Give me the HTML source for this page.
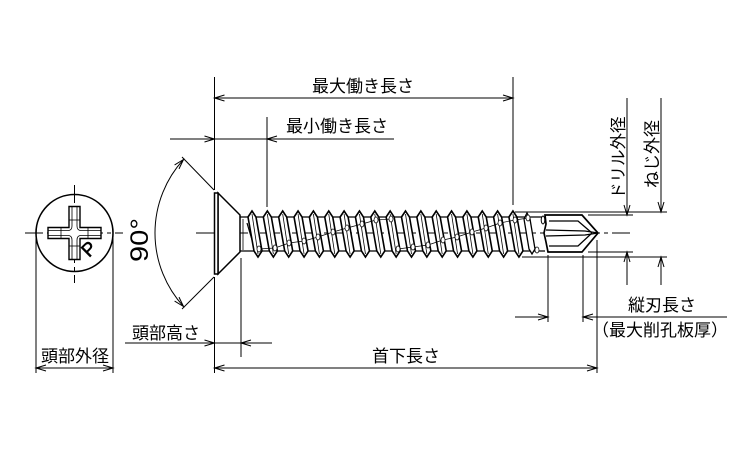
<!DOCTYPE html>
<html><head><meta charset="utf-8">
<style>
html,body{margin:0;padding:0;background:#fff;}
svg{display:block;}
text{font-family:"Liberation Sans","Noto Sans CJK JP",sans-serif;fill:#000;}
</style></head>
<body>
<svg width="750" height="450" viewBox="0 0 750 450" xmlns="http://www.w3.org/2000/svg">
<defs>
<g id="th">
<polygon points="-4,217 0,211 4,217 10,251 6,257 2,251" fill="#fff" stroke="#000" stroke-width="1.6" stroke-linejoin="miter"/>
<line x1="0" y1="214" x2="6" y2="254" stroke="#000" stroke-width="0.8"/>
</g>
</defs>
<rect width="750" height="450" fill="#fff"/>

<g stroke="#000" fill="none" stroke-width="1">
<line x1="25" y1="233" x2="123" y2="233" stroke-dasharray="18 4 4 4"/>
<line x1="74.5" y1="185" x2="74.5" y2="283" stroke-dasharray="18 4 4 4"/>
<line x1="196" y1="233" x2="630" y2="233" stroke-dasharray="20 4 4 4"/>
</g>

<circle cx="74.5" cy="233" r="38.5" fill="none" stroke="#000" stroke-width="1.6"/>
<polygon points="69,206.5 80,206.5 80,227.5 101,227.5 101,238.5 80,238.5 80,259.5 69,259.5 69,238.5 48,238.5 48,227.5 69,227.5" fill="#fff" stroke="#000" stroke-width="1.4"/>
<g stroke="#000" stroke-width="0.8" fill="none">
<path d="M72,207 V226 Q72,230.5 68,230.5 H48"/>
<path d="M77,207 V226 Q77,230.5 81,230.5 H101"/>
<path d="M72,259 V240 Q72,235.5 68,235.5 H48"/>
<path d="M77,259 V240 Q77,235.5 81,235.5 H101"/>
<line x1="69" y1="220" x2="80" y2="220"/>
<line x1="69" y1="246" x2="80" y2="246"/>
<line x1="61" y1="227.5" x2="61" y2="238.5"/>
<line x1="88" y1="227.5" x2="88" y2="238.5"/>
</g>
<text transform="translate(90,250) rotate(-45)" font-size="19" text-anchor="middle" dominant-baseline="middle" stroke="#000" stroke-width="0.6">P</text>

<g stroke="#000" fill="none" stroke-width="1">
<line x1="36" y1="233" x2="36" y2="373"/>
<line x1="113" y1="233" x2="113" y2="373"/>
<line x1="36" y1="368" x2="113" y2="368"/>
<polyline points="46,365 36,368 46,371"/>
<polyline points="103,365 113,368 103,371"/>
</g>

<g stroke="#000" stroke-width="1.3" fill="none">
<line x1="240" y1="217" x2="545" y2="217"/>
<line x1="240" y1="251" x2="545" y2="251"/>
</g>
<g stroke="#000" stroke-width="1.5" fill="#fff">
<polygon points="218,193 240,215 240,252 218,274"/>
<rect x="214.5" y="193" width="3.5" height="81"/>
</g>
<line x1="247" y1="223" x2="255" y2="250" stroke="#000" stroke-width="1.2"/>
<line x1="243" y1="219" x2="243" y2="250" stroke="#000" stroke-width="0.8"/>

<use href="#th" x="252"/>
<use href="#th" x="267.35"/>
<use href="#th" x="282.7"/>
<use href="#th" x="298.05"/>
<use href="#th" x="313.4"/>
<use href="#th" x="328.75"/>
<use href="#th" x="344.1"/>
<use href="#th" x="359.45"/>
<use href="#th" x="374.8"/>
<use href="#th" x="390.15"/>
<use href="#th" x="405.5"/>
<use href="#th" x="420.85"/>
<use href="#th" x="436.2"/>
<use href="#th" x="451.55"/>
<use href="#th" x="466.9"/>
<use href="#th" x="482.25"/>
<use href="#th" x="497.6"/>
<use href="#th" x="512.95"/>
<polygon points="524,219 527,213 530,219 535,249 532,254 529,249" fill="#fff" stroke="#000" stroke-width="1.3"/>
<ellipse cx="543" cy="220" rx="1.8" ry="4" fill="#fff" stroke="#000" stroke-width="1"/>

<g stroke="#000" stroke-width="0.7" fill="#fff">
<polyline fill="none" points="259,249 275,248 289,243 304,241 318,237 333,232 347,228 362,224 376,220 391,219"/>
<polyline fill="none" points="398,249 413,247 428,245 443,240 457,237 472,232 486,228 500,223 515,220 528,218"/>
<ellipse cx="259" cy="249" rx="2" ry="3"/><ellipse cx="275" cy="248" rx="2" ry="3"/>
<ellipse cx="289" cy="243" rx="2" ry="3"/><ellipse cx="304" cy="241" rx="2" ry="3"/>
<ellipse cx="318" cy="237" rx="2" ry="3"/><ellipse cx="333" cy="232" rx="2" ry="3"/>
<ellipse cx="347" cy="228" rx="2" ry="3"/><ellipse cx="362" cy="224" rx="2" ry="3"/>
<ellipse cx="376" cy="220" rx="2" ry="3"/><ellipse cx="391" cy="219" rx="2" ry="3"/>
<ellipse cx="398" cy="249" rx="2" ry="3"/><ellipse cx="413" cy="247" rx="2" ry="3"/>
<ellipse cx="428" cy="245" rx="2" ry="3"/><ellipse cx="443" cy="240" rx="2" ry="3"/>
<ellipse cx="457" cy="237" rx="2" ry="3"/><ellipse cx="472" cy="232" rx="2" ry="3"/>
<ellipse cx="486" cy="228" rx="2" ry="3"/><ellipse cx="500" cy="223" rx="2" ry="3"/>
<ellipse cx="515" cy="220" rx="2" ry="3"/><ellipse cx="528" cy="218" rx="2" ry="3"/>
<ellipse cx="537" cy="250" rx="2" ry="3"/>
</g>

<path d="M545,215 L582,215 L598,233 L582,252 L548,252 L546,242 L544,233 L546,224 Z" fill="#fff" stroke="#000" stroke-width="1.7"/>
<g stroke="#000" fill="none" stroke-width="1.3">
<path d="M549,221 L578,221 L592,233"/>
<path d="M549,246 L578,246 L592,233"/>
<path d="M546,230 L585,231 L598,233"/>
<path d="M546,236 L585,235 L598,233"/>
</g>

<g stroke="#000" fill="none" stroke-width="1">
<line x1="214.5" y1="77" x2="214.5" y2="190"/>
<line x1="214.5" y1="277" x2="214.5" y2="373"/>
<line x1="214" y1="190" x2="182" y2="157"/>
<line x1="214" y1="277" x2="182" y2="309"/>
<path d="M183.5,159.5 A109,109 0 0 0 183.5,306.5"/>
<polyline points="179,168.9 183.5,159.5 174.6,164.9"/>
<polyline points="179,297.1 183.5,306.5 174.6,301.1"/>
<line x1="513" y1="77" x2="513" y2="205"/>
<line x1="214.5" y1="98" x2="513" y2="98"/>
<polyline points="224.5,95 214.5,98 224.5,101"/>
<polyline points="503,95 513,98 503,101"/>
<line x1="267" y1="117" x2="267" y2="207"/>
<line x1="170" y1="139" x2="394" y2="139"/>
<polyline points="204.5,136 214.5,139 204.5,142"/>
<polyline points="277,136 267,139 277,142"/>
<line x1="241" y1="258" x2="241" y2="357"/>
<line x1="125" y1="343" x2="272" y2="343"/>
<polyline points="204.5,340 214.5,343 204.5,346"/>
<polyline points="251,340 241,343 251,346"/>
<line x1="597" y1="240" x2="597" y2="373"/>
<line x1="214.5" y1="368" x2="597" y2="368"/>
<polyline points="224.5,365 214.5,368 224.5,371"/>
<polyline points="587,365 597,368 587,371"/>
<line x1="548" y1="255" x2="548" y2="322"/>
<line x1="583" y1="255" x2="583" y2="322"/>
<line x1="515" y1="317" x2="548" y2="317"/>
<line x1="583" y1="317" x2="727" y2="317"/>
<polyline points="538,314 548,317 538,320"/>
<polyline points="593,314 583,317 593,320"/>
<line x1="515" y1="212" x2="667" y2="212"/>
<line x1="522" y1="257" x2="667" y2="257"/>
<line x1="588" y1="215" x2="633" y2="215"/>
<line x1="588" y1="252" x2="633" y2="252"/>
<line x1="627" y1="98" x2="627" y2="215"/>
<line x1="627" y1="252" x2="627" y2="285"/>
<line x1="661" y1="98" x2="661" y2="212"/>
<line x1="661" y1="257" x2="661" y2="285"/>
<polyline points="624,205 627,215 630,205"/>
<polyline points="624,262 627,252 630,262"/>
<polyline points="658,202 661,212 664,202"/>
<polyline points="658,267 661,257 664,267"/>
</g>

<g font-size="17">
<text x="363" y="92" text-anchor="middle">最大働き長さ</text>
<text x="337" y="132" text-anchor="middle">最小働き長さ</text>
<text x="166" y="339" text-anchor="middle">頭部高さ</text>
<text x="75" y="362" text-anchor="middle">頭部外径</text>
<text x="406" y="362" text-anchor="middle">首下長さ</text>
<text x="662" y="311" text-anchor="middle">縦刃長さ</text>
<text x="660" y="336" text-anchor="middle">（最大削孔板厚）</text>
</g>
<text transform="translate(624,199) rotate(-90)" font-size="16.5" text-anchor="start">ドリル外径</text>
<text transform="translate(658,188) rotate(-90)" font-size="17" text-anchor="start">ねじ外径</text>
<text transform="translate(148,240) rotate(-90)" font-size="25" text-anchor="middle" textLength="44" lengthAdjust="spacingAndGlyphs">90°</text>
</svg>
</body></html>
